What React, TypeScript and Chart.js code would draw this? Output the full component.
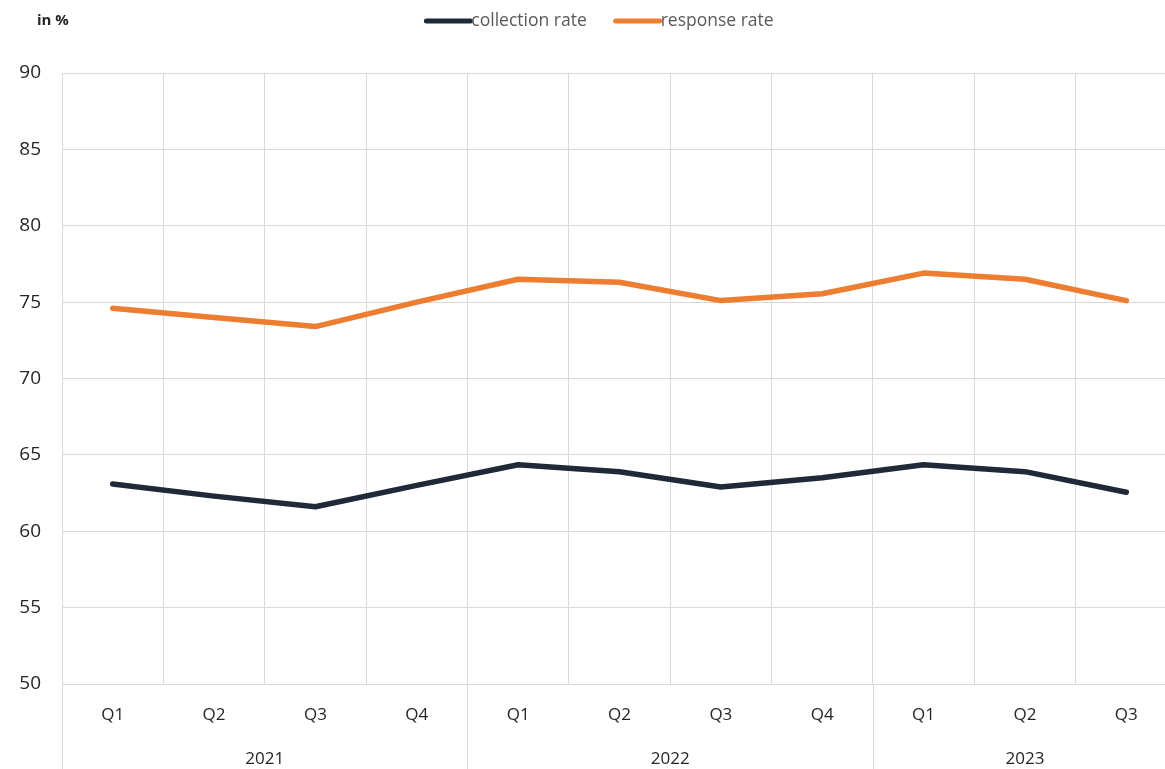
import React, { useEffect, useRef } from "react";
import { Chart, registerables } from "chart.js";

Chart.register(...registerables);

const quarters = ["Q1", "Q2", "Q3", "Q4", "Q1", "Q2", "Q3", "Q4", "Q1", "Q2", "Q3"];
const years = ["2021", "2022", "2023"];
const yearSpans = [4, 4, 3];
const collectionRate = [63.1, 62.3, 61.6, 63.0, 64.35, 63.9, 62.9, 63.5, 64.35, 63.9, 62.55];
const responseRate = [74.6, 74.0, 73.4, 75.0, 76.5, 76.3, 75.1, 75.55, 76.9, 76.5, 75.1];
const seriesNames = ["collection rate", "response rate"];
const seriesColors = ["#1f2937", "#ed7d31"];
const unitLabel = "in %";

const FONT = "'Open Sans', 'DejaVu Sans', sans-serif";
const GRID = "#d9d9d9";
const TEXT = "#262626";

const overlayPlugin = {
  id: "overlay",
  afterDraw(chart: any) {
    const ctx = chart.ctx as CanvasRenderingContext2D;
    const x = chart.scales.x;
    const area = chart.chartArea;
    const H = chart.height;
    const half = (x.getPixelForValue(1) - x.getPixelForValue(0)) / 2;
    ctx.save();
    let idx = 0;
    ctx.strokeStyle = GRID;
    ctx.lineWidth = 1;
    ctx.fillStyle = TEXT;
    ctx.font = `17px ${FONT}`;
    ctx.textAlign = "center";
    ctx.textBaseline = "middle";
    years.forEach((yr, k) => {
      const start = x.getPixelForValue(idx) - half;
      const end = x.getPixelForValue(idx + yearSpans[k] - 1) + half;
      const sx = Math.round(start) + 0.5;
      ctx.beginPath();
      ctx.moveTo(sx, area.bottom);
      ctx.lineTo(sx, H);
      ctx.stroke();
      ctx.fillText(yr, (start + end) / 2, 759);
      idx += yearSpans[k];
    });
    ctx.textAlign = "left";
    ctx.font = `bold 15px ${FONT}`;
    ctx.fillStyle = TEXT;
    ctx.fillText(unitLabel, 37, 21);
    ctx.font = `17.5px ${FONT}`;
    const lineW = 46;
    const gap = 27;
    const widths = seriesNames.map((n) => ctx.measureText(n).width);
    const total = widths.reduce((a, b) => a + b, 0) + lineW * 2 + gap + 2;
    let lx = 599 - total / 2;
    seriesNames.forEach((n, i) => {
      ctx.strokeStyle = seriesColors[i];
      ctx.lineWidth = 5;
      ctx.lineCap = "round";
      ctx.beginPath();
      ctx.moveTo(lx + 2, 21);
      ctx.lineTo(lx + lineW, 21);
      ctx.stroke();
      ctx.fillStyle = "#595959";
      ctx.fillText(n, lx + lineW + 1, 21);
      lx += lineW + 1 + widths[i] + gap;
    });
    ctx.restore();
  },
};

export default function App() {
  const ref = useRef<HTMLCanvasElement | null>(null);
  useEffect(() => {
    if (!ref.current) return;
    const chart = new Chart(ref.current, {
      type: "line",
      data: {
        labels: quarters,
        datasets: [
          {
            label: seriesNames[0],
            data: collectionRate,
            borderColor: seriesColors[0],
            backgroundColor: seriesColors[0],
            borderWidth: 5.5,
            pointRadius: 0,
            borderCapStyle: "round",
            borderJoinStyle: "round",
            tension: 0,
          },
          {
            label: seriesNames[1],
            data: responseRate,
            borderColor: seriesColors[1],
            backgroundColor: seriesColors[1],
            borderWidth: 5.5,
            pointRadius: 0,
            borderCapStyle: "round",
            borderJoinStyle: "round",
            tension: 0,
          },
        ],
      },
      options: {
        animation: false,
        responsive: false,
        devicePixelRatio: 1,
        layout: { padding: { top: 73, left: 0, right: 3, bottom: 0 } },
        plugins: { legend: { display: false }, tooltip: { enabled: false } },
        scales: {
          x: {
            offset: true,
            grid: { offset: true, color: GRID, drawTicks: false, lineWidth: 1 },
            border: { display: false },
            ticks: {
              color: TEXT,
              font: { family: FONT, size: 17 },
              padding: 21,
              maxRotation: 0,
              autoSkip: false,
            },
            afterFit: (s: any) => {
              s.height = 85;
            },
          },
          y: {
            min: 50,
            max: 90,
            ticks: {
              stepSize: 5,
              color: TEXT,
              font: { family: FONT, size: 19 },
              padding: 21,
            },
            grid: { color: GRID, drawTicks: false, lineWidth: 1 },
            border: { display: true, color: GRID },
            afterFit: (s: any) => {
              s.width = 62;
            },
          },
        },
      },
      plugins: [overlayPlugin],
    });
    return () => chart.destroy();
  }, []);
  return (
    <div
      style={{
        position: "fixed",
        left: 0,
        top: 0,
        width: 1165,
        height: 769,
        overflow: "hidden",
        background: "#ffffff",
      }}
    >
      <canvas ref={ref} width={1180} height={769} style={{ display: "block" }} />
    </div>
  );
}
